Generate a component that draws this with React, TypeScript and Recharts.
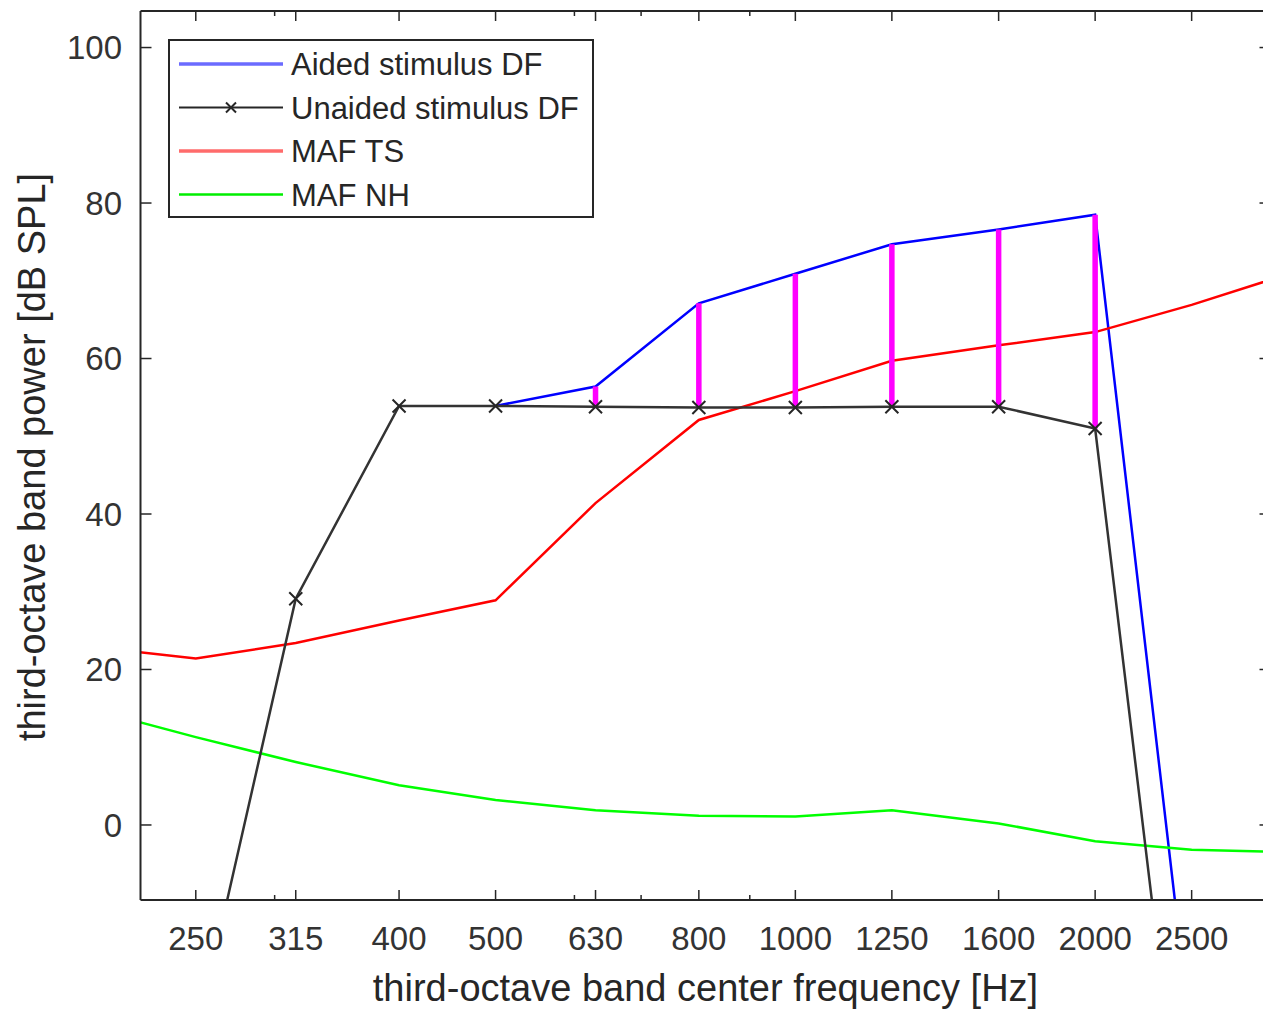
import { Legend, Line, LineChart, XAxis, YAxis } from "recharts";

// third-octave bands shown on the x axis
const bands = [250, 315, 400, 500, 630, 800, 1000, 1250, 1600, 2000, 2500];
const minorTicks = [300, 600, 700, 900];
const yTicks = [0, 20, 40, 60, 80, 100];

// stimulus levels per band (dB SPL)
const unaidedDF = [-27.4, 29.1, 53.9, 53.9, 53.8, 53.7, 53.7, 53.8, 53.8, 51.0, -52.2];
const aidedDF = [null, null, null, 53.9, 56.4, 67.1, 70.9, 74.7, 76.6, 78.5, -28.2];
const gainBands = [630, 800, 1000, 1250, 1600, 2000];

// minimum audible field curves
const mafFreqs = [200, 250, 315, 400, 500, 630, 800, 1000, 1250, 1600, 2000, 2500, 3150];
const mafTS = [22.8, 21.4, 23.4, 26.3, 28.9, 41.4, 52.1, 55.8, 59.7, 61.7, 63.4, 66.9, 71.0];
const mafNH = [14.6, 11.3, 8.1, 5.1, 3.2, 1.9, 1.2, 1.1, 1.9, 0.2, -2.1, -3.2, -3.5];

const FONT = '"Liberation Sans", Arial, Helvetica, sans-serif';
const AXIS = "#262626";
const X_DOMAIN = [220, 3000];
const Y_DOMAIN = [-9.65, 104.7];

const aidedData = bands
  .map((f, i) => ({ f, db: aidedDF[i] }))
  .filter((d) => d.db !== null);
const unaidedData = bands.map((f, i) => ({ f, db: unaidedDF[i] }));
const tsData = mafFreqs.map((f, i) => ({ f, db: mafTS[i] }));
const nhData = mafFreqs.map((f, i) => ({ f, db: mafNH[i] }));
const gainData = gainBands.flatMap((f) => {
  const i = bands.indexOf(f);
  return [
    { f, db: unaidedDF[i] },
    { f, db: aidedDF[i] },
    { f, db: null },
  ];
});

const legendItems = [
  { name: "Aided stimulus DF", color: "#6b6bff", width: 3.5, marker: false },
  { name: "Unaided stimulus DF", color: "#262626", width: 2, marker: true },
  { name: "MAF TS", color: "#ff6b6b", width: 3.5, marker: false },
  { name: "MAF NH", color: "#00ee00", width: 2.5, marker: false },
];

const isMajor = (v: number) => bands.includes(v);

const BottomTick = (props: any) => {
  const { x, y, payload } = props;
  const major = isMajor(payload.value);
  return (
    <g>
      <line x1={x} x2={x} y1={y} y2={y - (major ? 10 : 5)} stroke={AXIS} strokeWidth={1.5} />
      {major && (
        <text x={x} y={y + 27} dy="0.71em" textAnchor="middle" fill="#333" fontSize={33} fontFamily={FONT}>
          {payload.value}
        </text>
      )}
    </g>
  );
};

const TopTick = (props: any) => {
  const { x, y, payload } = props;
  const major = isMajor(payload.value);
  return <line x1={x} x2={x} y1={y} y2={y + (major ? 10 : 5)} stroke={AXIS} strokeWidth={1.5} />;
};

const LeftTick = (props: any) => {
  const { x, y, payload } = props;
  return (
    <g>
      <line x1={x} x2={x + 11} y1={y} y2={y} stroke={AXIS} strokeWidth={1.5} />
      <text x={x - 18.5} y={y} dy="0.355em" textAnchor="end" fill="#333" fontSize={33} fontFamily={FONT}>
        {payload.value}
      </text>
    </g>
  );
};

const RightTick = (props: any) => {
  const { x, y } = props;
  return <line x1={x} x2={x - 11} y1={y} y2={y} stroke={AXIS} strokeWidth={1.5} />;
};

const CrossDot = (props: any) => {
  const { cx, cy } = props;
  if (cx == null || cy == null) return null;
  const s = 6.5;
  return (
    <path
      d={`M${cx - s},${cy - s}L${cx + s},${cy + s}M${cx - s},${cy + s}L${cx + s},${cy - s}`}
      stroke="#262626"
      strokeWidth={2}
      fill="none"
    />
  );
};

const MatlabLegend = () => (
  <svg width={426} height={179} style={{ display: "block" }}>
    <rect x={1} y={1} width={424} height={177} fill="#fff" stroke={AXIS} strokeWidth={2} />
    {legendItems.map((it, i) => {
      const cy = 25 + i * 43.5;
      return (
        <g key={it.name}>
          <line x1={11} x2={115} y1={cy} y2={cy} stroke={it.color} strokeWidth={it.width} />
          {it.marker && (
            <path
              d={`M${63 - 5},${cy - 5}L${63 + 5},${cy + 5}M${63 - 5},${cy + 5}L${63 + 5},${cy - 5}`}
              stroke="#262626"
              strokeWidth={2}
            />
          )}
          <text x={123} y={cy} dy="0.36em" fontSize={31} fill="#262626" fontFamily={FONT}>
            {it.name}
          </text>
        </g>
      );
    })}
  </svg>
);

export default function App() {
  return (
    <div
      style={{
        position: "absolute",
        left: 0,
        top: 0,
        width: 1263,
        height: 1012,
        overflow: "hidden",
        background: "#fff",
      }}
    >
      <LineChart width={1280} height={1012} margin={{ top: 0, right: 0, bottom: 0, left: 0 }}>
        <XAxis
          dataKey="f"
          type="number"
          scale="log"
          domain={X_DOMAIN}
          allowDataOverflow
          ticks={[...bands, ...minorTicks]}
          interval={0}
          height={112}
          tickSize={0}
          tickMargin={0}
          tickLine={false}
          tick={<BottomTick />}
          axisLine={{ stroke: AXIS, strokeWidth: 2 }}
          label={() => (
            <text x={705.5} y={1001} textAnchor="middle" fontSize={38} fill="#262626" fontFamily={FONT}>
              third-octave band center frequency [Hz]
            </text>
          )}
        />
        <XAxis
          xAxisId="top"
          orientation="top"
          dataKey="f"
          type="number"
          scale="log"
          domain={X_DOMAIN}
          allowDataOverflow
          ticks={[...bands, ...minorTicks]}
          interval={0}
          height={11}
          tickSize={0}
          tickMargin={0}
          tickLine={false}
          tick={<TopTick />}
          axisLine={{ stroke: AXIS, strokeWidth: 2 }}
        />
        <YAxis
          type="number"
          domain={Y_DOMAIN}
          allowDataOverflow
          ticks={yTicks}
          interval={0}
          width={140.5}
          tickSize={0}
          tickMargin={0}
          tickLine={false}
          tick={<LeftTick />}
          axisLine={{ stroke: AXIS, strokeWidth: 2 }}
          label={() => (
            <text
              transform="translate(45,457) rotate(-90)"
              textAnchor="middle"
              fontSize={38}
              fill="#262626"
              fontFamily={FONT}
            >
              third-octave band power [dB SPL]
            </text>
          )}
        />
        <YAxis
          yAxisId="right"
          orientation="right"
          type="number"
          domain={Y_DOMAIN}
          allowDataOverflow
          ticks={yTicks}
          interval={0}
          width={9.5}
          tickSize={0}
          tickMargin={0}
          tickLine={false}
          tick={<RightTick />}
          axisLine={{ stroke: AXIS, strokeWidth: 2 }}
        />
        <Line data={aidedData} dataKey="db" name="Aided stimulus DF" type="linear" stroke="#0000ff" strokeWidth={2.5} dot={false} activeDot={false} isAnimationActive={false} />
        <Line data={tsData} dataKey="db" name="MAF TS" type="linear" stroke="#ff0000" strokeWidth={2.5} dot={false} activeDot={false} isAnimationActive={false} />
        <Line data={nhData} dataKey="db" name="MAF NH" type="linear" stroke="#00ff00" strokeWidth={2.5} dot={false} activeDot={false} isAnimationActive={false} />
        <Line data={gainData} dataKey="db" name="gain" type="linear" stroke="#ff00ff" strokeWidth={5.5} dot={false} activeDot={false} legendType="none" isAnimationActive={false} />
        <Line data={unaidedData} dataKey="db" name="Unaided stimulus DF" type="linear" stroke="#333" strokeWidth={2.5} dot={<CrossDot />} activeDot={false} isAnimationActive={false} />
        <Legend
          layout="vertical"
          align="center"
          verticalAlign="middle"
          content={<MatlabLegend />}
          wrapperStyle={{ left: 168, top: 39, width: 426, height: 179, right: "auto", bottom: "auto" }}
        />
      </LineChart>
    </div>
  );
}
